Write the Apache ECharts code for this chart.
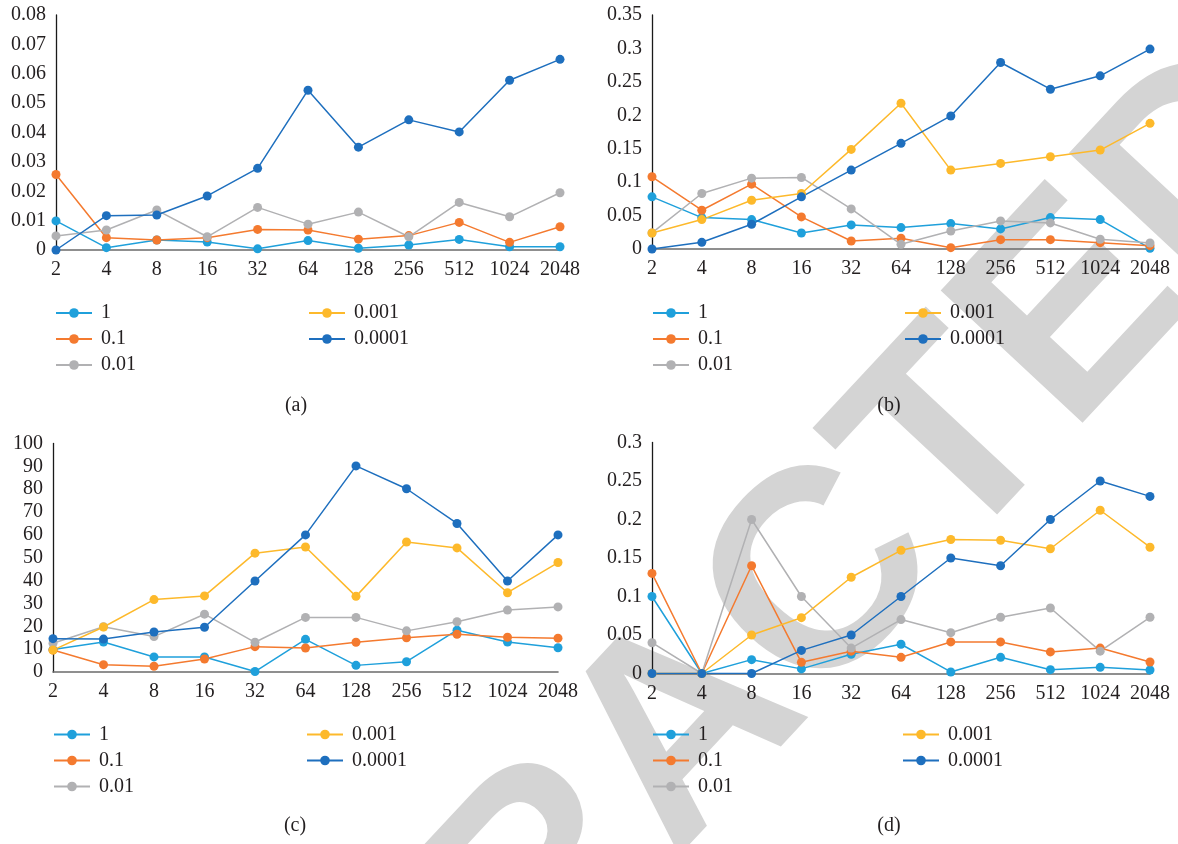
<!DOCTYPE html>
<html>
<head>
<meta charset="utf-8">
<script src="https://cdn.jsdelivr.net/npm/echarts@6/dist/echarts.min.js"></script>
<style>
  html, body { margin: 0; padding: 0; background: #fff; }
  #chart { width: 1178px; height: 844px; }
</style>
</head>
<body>
<div id="chart"></div>
<script>
// Shared category axis (batch sizes) and series names
const xCats = ['2', '4', '8', '16', '32', '64', '128', '256', '512', '1024', '2048'];
const seriesNames = ['1', '0.1', '0.01', '0.001', '0.0001'];

// Panel (a)
const a_1     = [0.0099, 0.0008, 0.0034, 0.0027, 0.0004, 0.0032, 0.0006, 0.0017, 0.0036, 0.0011, 0.0011];
const a_01    = [0.0257, 0.0042, 0.0034, 0.0042, 0.0070, 0.0068, 0.0037, 0.0049, 0.0094, 0.0026, 0.0079];
const a_001   = [0.0048, 0.0068, 0.0136, 0.0045, 0.0145, 0.0088, 0.0129, 0.0045, 0.0162, 0.0113, 0.0195];
const a_0001  = [];
const a_00001 = [0, 0.0117, 0.0119, 0.0184, 0.0278, 0.0544, 0.0350, 0.0443, 0.0402, 0.0578, 0.0649];

// Panel (b)
const b_1     = [0.078, 0.047, 0.044, 0.024, 0.036, 0.032, 0.038, 0.030, 0.047, 0.044, 0.001];
const b_01    = [0.108, 0.058, 0.097, 0.048, 0.012, 0.016, 0.002, 0.014, 0.014, 0.0095, 0.005];
const b_001   = [0.024, 0.083, 0.106, 0.107, 0.060, 0.007, 0.027, 0.042, 0.039, 0.0145, 0.009];
const b_0001  = [0.024, 0.044, 0.073, 0.083, 0.149, 0.218, 0.118, 0.128, 0.138, 0.148, 0.188];
const b_00001 = [0, 0.010, 0.037, 0.078, 0.118, 0.158, 0.199, 0.279, 0.239, 0.259, 0.299];

// Panel (c)
const c_1     = [9.8, 13.1, 6.6, 6.6, 0.2, 14.3, 2.9, 4.5, 18.3, 13.1, 10.6];
const c_01    = [9.6, 3.2, 2.5, 5.7, 11.1, 10.5, 13.0, 15.0, 16.5, 15.2, 14.8];
const c_001   = [12.6, 19.8, 15.5, 25.3, 13.0, 23.9, 23.9, 18.0, 22.0, 27.1, 28.5];
const c_0001  = [9.6, 19.7, 31.7, 33.3, 52.0, 54.7, 33.1, 56.9, 54.3, 34.7, 47.9];
const c_00001 = [14.6, 14.4, 17.5, 19.6, 39.8, 60.0, 90.2, 80.2, 65.0, 39.8, 60.0];

// Panel (d)
const d_1     = [0.100, 0, 0.018, 0.006, 0.025, 0.038, 0.002, 0.021, 0.005, 0.008, 0.0045];
const d_01    = [0.130, 0, 0.140, 0.0145, 0.029, 0.021, 0.041, 0.041, 0.028, 0.033, 0.015];
const d_001   = [0.040, 0, 0.200, 0.100, 0.033, 0.070, 0.053, 0.073, 0.085, 0.029, 0.073];
const d_0001  = [0, 0, 0.050, 0.0725, 0.125, 0.160, 0.174, 0.173, 0.162, 0.212, 0.164];
const d_00001 = [0, 0, 0, 0.030, 0.050, 0.100, 0.150, 0.140, 0.200, 0.250, 0.230];

// Y axis ranges per panel
const yMax = [0.08, 0.35, 100, 0.3];
const yStep = [0.01, 0.05, 10, 0.05];
const captions = ['(a)', '(b)', '(c)', '(d)'];

const panelData = [
  [a_1, a_01, a_001, a_0001, a_00001],
  [b_1, b_01, b_001, b_0001, b_00001],
  [c_1, c_01, c_001, c_0001, c_00001],
  [d_1, d_01, d_001, d_0001, d_00001]
];

const colors = ['#1fa0db', '#f47a2f', '#b1b1b3', '#fdb92b', '#1e6fbe'];
const FONT = 'Liberation Serif';
const FS = 20;
const TEXT = '#231f20';

// Layout of each panel
const grids = [
  { left: 56,  top: 15,  width: 504, height: 235 },
  { left: 652, top: 15,  width: 498, height: 234 },
  { left: 53,  top: 443.5, width: 505, height: 228.5 },
  { left: 652, top: 442.5, width: 498, height: 231 }
];
const legendPos = [
  { c1: 55,  c2: 308, row1: 313 },
  { c1: 652, c2: 904, row1: 313 },
  { c1: 53,  c2: 306, row1: 734.5 },
  { c1: 652, c2: 902, row1: 734.5 }
];
const captionPos = [[296, 406], [889, 406], [295, 826], [889, 826]];

const xAxes = [], yAxes = [], series = [], legends = [], graphics = [];

// Watermark lettering behind the panels
graphics.push({
  type: 'text',
  z: -10,
  x: 687, y: 733,
  rotation: 47 * Math.PI / 180,
  style: {
    text: 'RETRACTED',
    fill: '#d4d4d4',
    font: 'bold 282px "Liberation Sans"',
    align: 'center',
    verticalAlign: 'middle'
  }
});

grids.forEach((g, i) => {
  xAxes.push({
    gridIndex: i,
    type: 'category',
    data: xCats,
    boundaryGap: false,
    axisLine: { lineStyle: { color: '#6b6b6b', width: 1.6 } },
    axisTick: { show: false },
    axisLabel: { color: TEXT, fontFamily: FONT, fontSize: FS, margin: 10, interval: 0 },
    splitLine: { show: false }
  });
  yAxes.push({
    gridIndex: i,
    type: 'value',
    min: 0,
    max: yMax[i],
    interval: yStep[i],
    axisLine: { show: true, onZero: false, lineStyle: { color: '#1a1a1a', width: 1.3 } },
    axisTick: { show: false },
    axisLabel: { color: TEXT, fontFamily: FONT, fontSize: FS, margin: 10 },
    splitLine: { show: false }
  });
  seriesNames.forEach((name, k) => {
    series.push({
      name: name,
      type: 'line',
      xAxisIndex: i,
      yAxisIndex: i,
      data: panelData[i][k],
      symbol: 'circle',
      symbolSize: 9,
      showSymbol: true,
      color: colors[k],
      lineStyle: { width: 1.5, color: colors[k] },
      itemStyle: { color: colors[k] },
      emphasis: { disabled: true },
      animation: false
    });
  });
  const lp = legendPos[i];
  const legendCommon = {
    orient: 'vertical',
    itemWidth: 36,
    itemHeight: 12,
    itemGap: 6,
    selectedMode: false,
    padding: 0,
    textStyle: { color: TEXT, fontFamily: FONT, fontSize: FS, padding: [0, 0, 0, 4] }
  };
  legends.push(Object.assign({}, legendCommon, {
    left: lp.c1, top: lp.row1 - FS / 2,
    data: seriesNames.slice(0, 3)
  }));
  legends.push(Object.assign({}, legendCommon, {
    left: lp.c2, top: lp.row1 - FS / 2,
    data: seriesNames.slice(3)
  }));
  graphics.push({
    type: 'text',
    x: captionPos[i][0], y: captionPos[i][1],
    style: {
      text: captions[i], fill: TEXT,
      font: FS + 'px "' + FONT + '"',
      align: 'center', verticalAlign: 'middle'
    }
  });
});

const chart = echarts.init(document.getElementById('chart'), null, { renderer: 'canvas' });
chart.setOption({
  animation: false,
  backgroundColor: '#ffffff',
  grid: grids,
  xAxis: xAxes,
  yAxis: yAxes,
  legend: legends,
  series: series,
  graphic: graphics
});
</script>
</body>
</html>
